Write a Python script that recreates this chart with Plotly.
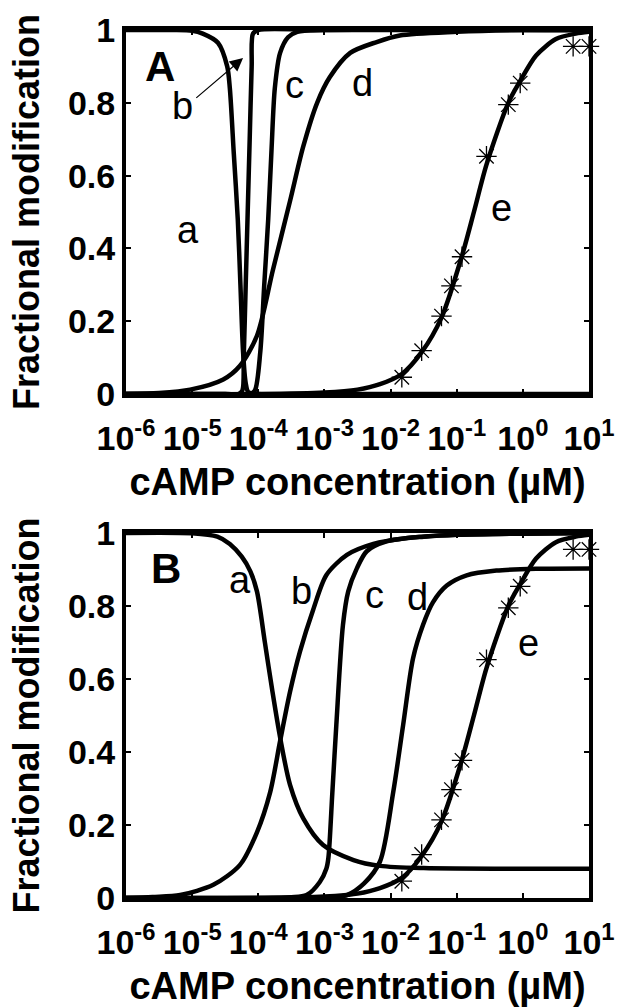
import plotly.graph_objects as go

# ---------------- data (log10 of cAMP concentration in uM, fractional modification) ----------------
# Panel A
A_a_logx = [-6, -5.3, -5.0, -4.84, -4.61, -4.47, -4.43, -4.37, -4.31, -4.27, -4.23, -4.19, -4.15, -4.0, -3, 1]
A_a_y    = [1.0, 1.0, 0.998, 0.99, 0.965, 0.9, 0.84, 0.66, 0.48, 0.30, 0.115, 0.03, 0.005, 0.0, 0.0, 0.0]

A_b_logx = [-6, -4.5, -4.3, -4.24, -4.22, -4.19, -4.16, -4.13, -4.10, -4.08, -4.0, -3, 1]
A_b_y    = [0.0, 0.0, 0.0, 0.01, 0.1, 0.3, 0.5, 0.7, 0.9, 0.99, 1.0, 1.0, 1.0]

A_c_logx = [-6, -4.5, -4.12, -4.05, -3.97, -3.91, -3.85, -3.80, -3.75, -3.67, -3.55, -3.41, -3.0, 1]
A_c_y    = [0.0, 0.0, 0.0, 0.01, 0.115, 0.30, 0.48, 0.67, 0.84, 0.937, 0.98, 0.995, 1.0, 1.0]

A_d_logx = [-6, -5.5, -5.03, -4.53, -4.28, -4.02, -3.78, -3.52, -3.32, -3.11, -2.92, -2.61, -2.21, -1.86, -1.0, 0.0, 1.0]
A_d_y    = [0.0, 0.003, 0.012, 0.04, 0.077, 0.16, 0.34, 0.53, 0.68, 0.80, 0.87, 0.937, 0.967, 0.985, 0.995, 1.0, 1.0]

E_logx = [-6, -4, -3, -2.5, -2.16, -1.83, -1.53, -1.23, -0.92, -0.74, -0.55, -0.22, -0.04, 0.2, 0.5, 0.8, 1.0]
E_y    = [0.0, 0.0, 0.004, 0.012, 0.027, 0.055, 0.115, 0.21, 0.38, 0.5, 0.63, 0.8, 0.86, 0.93, 0.975, 0.99, 0.995]

# experimental points (asterisks), identical in both panels
pts_logx = [-1.83, -1.53, -1.23, -1.08, -0.92, -0.55, -0.22, -0.04, 0.76, 1.0]
pts_y    = [0.046, 0.119, 0.214, 0.297, 0.377, 0.653, 0.795, 0.854, 0.955, 0.955]

# Panel B
B_a_logx = [-6, -5.0, -4.62, -4.43, -4.25, -4.12, -4.02, -3.90, -3.79, -3.67, -3.52, -3.32, -3.02, -2.56, -2.16, -1.5, 1.0]
B_a_y    = [1.0, 0.999, 0.99, 0.97, 0.935, 0.895, 0.84, 0.70, 0.57, 0.44, 0.31, 0.218, 0.145, 0.104, 0.088, 0.082, 0.08]

B_b_logx = [-6, -5.6, -5.18, -4.68, -4.28, -4.02, -3.82, -3.67, -3.52, -3.37, -3.17, -2.97, -2.66, -2.26, -1.8, -1.0, 1.0]
B_b_y    = [0.0, 0.003, 0.008, 0.036, 0.09, 0.18, 0.29, 0.43, 0.565, 0.675, 0.79, 0.885, 0.94, 0.97, 0.985, 0.995, 1.0]

B_c_logx = [-6, -4, -3.5, -3.27, -3.07, -2.97, -2.94, -2.88, -2.82, -2.72, -2.64, -2.51, -2.36, -2.06, -1.5, -1.0, 1.0]
B_c_y    = [0.0, 0.0, 0.002, 0.008, 0.044, 0.081, 0.11, 0.29, 0.474, 0.748, 0.84, 0.903, 0.95, 0.977, 0.99, 0.995, 1.0]

B_d_logx = [-6, -3.5, -2.9, -2.66, -2.4, -2.16, -1.96, -1.81, -1.66, -1.51, -1.36, -1.15, -0.85, -0.40, 0.2, 1.0]
B_d_y    = [0.0, 0.0, 0.002, 0.008, 0.04, 0.10, 0.29, 0.474, 0.657, 0.748, 0.81, 0.856, 0.884, 0.897, 0.902, 0.903]

x_tickvals = [1e-6, 1e-5, 1e-4, 1e-3, 1e-2, 1e-1, 1e0, 1e1]
x_ticktext = ["10<sup>-6</sup>", "10<sup>-5</sup>", "10<sup>-4</sup>", "10<sup>-3</sup>",
              "10<sup>-2</sup>", "10<sup>-1</sup>", "10<sup>0</sup>", "10<sup>1</sup>"]
y_tickvals = [0, 0.2, 0.4, 0.6, 0.8, 1.0]
y_ticktext = ["0", "0.2", "0.4", "0.6", "0.8", "1"]

# curve labels: (text, log10 x, y)
A_labels = [("a", -5.06, 0.45), ("b", -5.15, 0.79), ("c", -3.46, 0.85), ("d", -2.42, 0.855), ("e", -0.32, 0.51)]
B_labels = [("a", -4.28, 0.87), ("b", -3.34, 0.84), ("c", -2.24, 0.83), ("d", -1.59, 0.825), ("e", 0.08, 0.70)]

# ---------------- figure ----------------
FONT = "Liberation Sans, Arial, sans-serif"
LW = 4.5

fig = go.Figure()

def add_curve(lx, y, xa, ya):
    fig.add_trace(go.Scatter(x=[10 ** v for v in lx], y=y, mode="lines",
                             line=dict(color="black", width=LW, shape="spline", smoothing=0.8),
                             xaxis=xa, yaxis=ya, showlegend=False, hoverinfo="skip"))

for lx, y in [(A_a_logx, A_a_y), (A_b_logx, A_b_y), (A_c_logx, A_c_y), (A_d_logx, A_d_y), (E_logx, E_y)]:
    add_curve(lx, y, "x", "y")
for lx, y in [(B_a_logx, B_a_y), (B_b_logx, B_b_y), (B_c_logx, B_c_y), (B_d_logx, B_d_y), (E_logx, E_y)]:
    add_curve(lx, y, "x2", "y2")

for xa, ya in [("x", "y"), ("x2", "y2")]:
    fig.add_trace(go.Scatter(x=[10 ** v for v in pts_logx], y=pts_y, mode="markers",
                             marker=dict(symbol="asterisk-open", size=17, color="black",
                                         line=dict(color="black", width=1.3)),
                             xaxis=xa, yaxis=ya, showlegend=False, hoverinfo="skip", cliponaxis=False))

tickfont = dict(family=FONT, size=34, color="black", weight="bold")
xtitlefont = dict(family=FONT, size=38, color="black", weight="bold")
ytitlefont = dict(family=FONT, size=36, color="black", weight="bold")

def xaxis(domain, anchor):
    return dict(type="log", range=[-6, 1], domain=domain, anchor=anchor,
                tickvals=x_tickvals, ticktext=x_ticktext, ticks="inside", ticklen=5, tickwidth=2,
                tickcolor="black", showline=True, linewidth=4, linecolor="black", mirror="allticks",
                showgrid=False, zeroline=False, tickfont=tickfont, tickangle=0, ticklabelstandoff=11,
                title=dict(text="cAMP concentration (\u00b5M)", font=xtitlefont, standoff=14))

def yaxis(domain, anchor):
    return dict(range=[0, 1], domain=domain, anchor=anchor,
                tickvals=y_tickvals, ticktext=y_ticktext, ticks="inside", ticklen=5, tickwidth=2,
                tickcolor="black", showline=True, linewidth=4, linecolor="black", mirror="allticks",
                showgrid=False, zeroline=False, tickfont=tickfont,
                title=dict(text="Fractional modification", font=ytitlefont, standoff=18))

W, H = 617, 1007
xdom = [126 / W, 589 / W]
fig.update_layout(
    width=W, height=H, autosize=False, template="none",
    margin=dict(l=0, r=0, t=0, b=0, pad=0),
    paper_bgcolor="white", plot_bgcolor="white", showlegend=False,
    xaxis=xaxis(xdom, "y"),
    yaxis=yaxis([1 - 394 / H, 1 - 30 / H], "x"),
    xaxis2=xaxis(xdom, "y2"),
    yaxis2=yaxis([1 - 898 / H, 1 - 533 / H], "x2"),
)

ann = []
lblfont = dict(family=FONT, size=38, color="black")
for t, lx, yv in A_labels:
    ann.append(dict(text=t, x=lx, y=yv, xref="x", yref="y", showarrow=False, font=lblfont))
for t, lx, yv in B_labels:
    ann.append(dict(text=t, x=lx, y=yv, xref="x2", yref="y2", showarrow=False, font=lblfont))
panelfont = dict(family=FONT, size=42, color="black", weight="bold")
ann.append(dict(text="A", x=-5.49, y=0.90, xref="x", yref="y", showarrow=False, font=panelfont))
ann.append(dict(text="B", x=-5.40, y=0.904, xref="x2", yref="y2", showarrow=False, font=panelfont))
# arrow from label b to curve b in panel A
ann.append(dict(text="", x=-4.23, y=0.923, ax=-4.96, ay=0.81, xref="x", yref="y",
                axref="x", ayref="y", showarrow=True, arrowhead=2, arrowsize=2.2,
                arrowwidth=1.2, arrowcolor="black"))
fig.update_layout(annotations=ann)

fig.write_html("out.html")
